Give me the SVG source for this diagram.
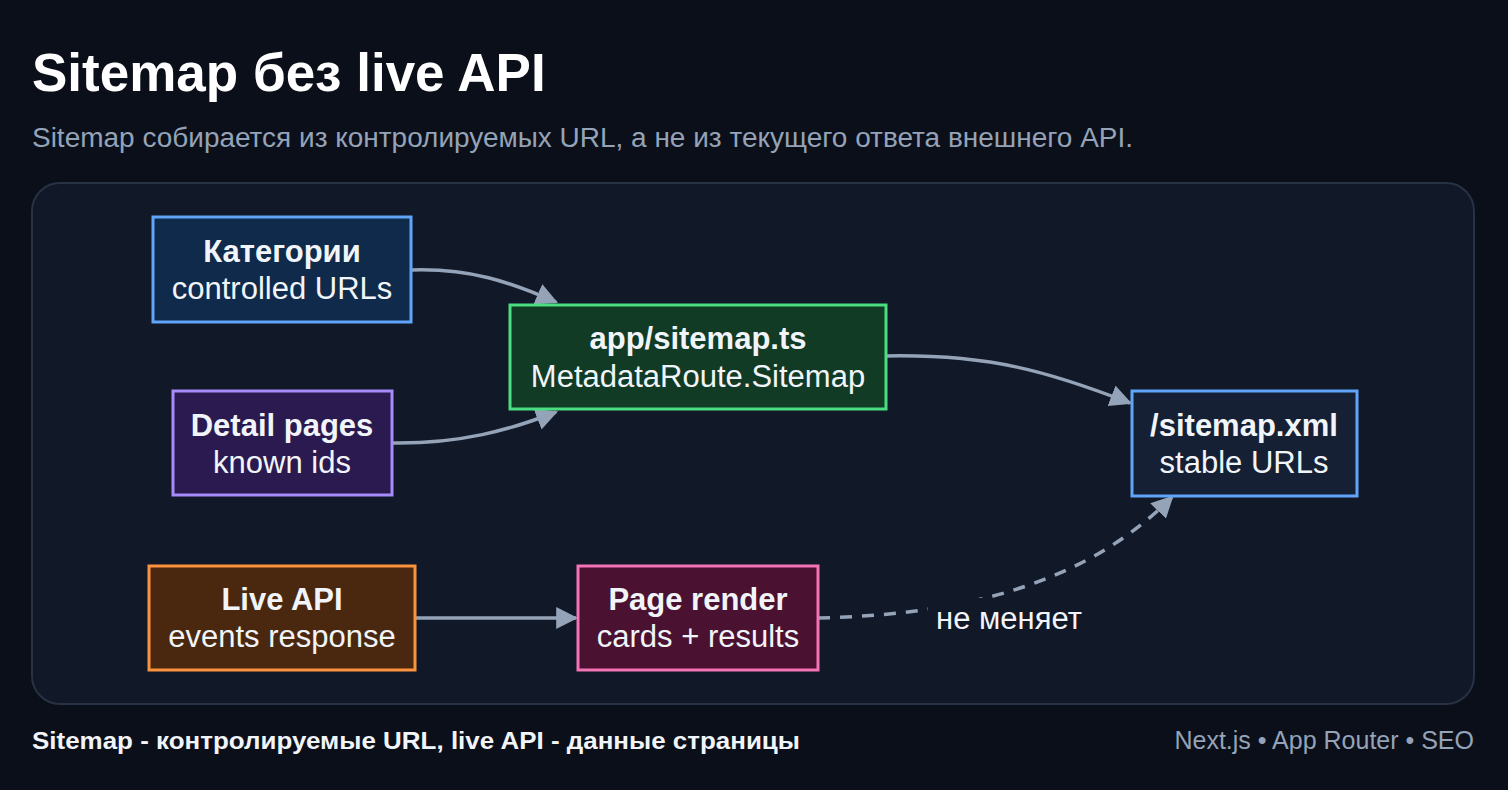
<svg xmlns="http://www.w3.org/2000/svg" width="1508" height="790" viewBox="0 0 1508 790">
<style>
.t{font-family:"Liberation Sans",Arial,sans-serif;fill:#f1f5f9;text-anchor:middle}
.b{font-weight:bold;font-size:31px}
.r{font-size:31px}
.e{fill:none;stroke:#94a3b8;stroke-width:3.5}
</style>
<defs>
<marker id="ah" viewBox="0 0 10 10" refX="9" refY="5" markerWidth="22" markerHeight="22" markerUnits="userSpaceOnUse" orient="auto"><path d="M0,0L10,5L0,10z" fill="#94a3b8"/></marker>
</defs>
<rect width="1508" height="790" fill="#0b0f19"/>
<text x="32" y="91" style="font-family:'Liberation Sans',Arial,sans-serif;font-weight:bold;font-size:53px;fill:#fff">Sitemap без live API</text>
<text x="32" y="147" style="font-family:'Liberation Sans',Arial,sans-serif;font-size:27px;fill:#94a3b8" textLength="1101" lengthAdjust="spacingAndGlyphs">Sitemap собирается из контролируемых URL, а не из текущего ответа внешнего API.</text>
<rect x="32" y="183" width="1442" height="521" rx="28" fill="#111827" stroke="#273244" stroke-width="2"/>
<g id="edges">
<path class="e" d="M411,270 C470,268 510,282 556,302" marker-end="url(#ah)"/>
<path class="e" d="M392,443 C460,444 510,430 556,412" marker-end="url(#ah)"/>
<path class="e" d="M886,356 C990,354 1050,372 1130,403" marker-end="url(#ah)"/>
<path class="e" d="M415,618 L576,618" marker-end="url(#ah)"/>
<path class="e" d="M818,618 C950,615 1080,590 1172,497" stroke-dasharray="12,10" marker-end="url(#ah)"/>
<rect x="928" y="598" width="162" height="42" fill="#111827"/>
<text class="t r" x="1009" y="629">не меняет</text>
</g>
<g id="n1"><rect x="153" y="217" width="258" height="105" fill="#0f2a4a" stroke="#60a5fa" stroke-width="3"/><text class="t b" x="282" y="262">Категории</text><text class="t r" x="282" y="299">controlled URLs</text></g>
<g id="n2"><rect x="173" y="391" width="219" height="104" fill="#2a1a50" stroke="#a78bfa" stroke-width="3"/><text class="t b" x="282" y="436">Detail pages</text><text class="t r" x="282" y="473">known ids</text></g>
<g id="n3"><rect x="510" y="305" width="376" height="104" fill="#123b26" stroke="#4ade80" stroke-width="3"/><text class="t b" x="698" y="349">app/sitemap.ts</text><text class="t r" x="698" y="387">MetadataRoute.Sitemap</text></g>
<g id="n4"><rect x="1132" y="391" width="225" height="105" fill="#162035" stroke="#60a5fa" stroke-width="3"/><text class="t b" x="1244" y="436">/sitemap.xml</text><text class="t r" x="1244" y="473">stable URLs</text></g>
<g id="n5"><rect x="149" y="566" width="266" height="104" fill="#4a2810" stroke="#fb923c" stroke-width="3"/><text class="t b" x="282" y="610">Live API</text><text class="t r" x="282" y="647">events response</text></g>
<g id="n6"><rect x="578" y="566" width="240" height="104" fill="#4a1230" stroke="#f472b6" stroke-width="3"/><text class="t b" x="698" y="610">Page render</text><text class="t r" x="698" y="647">cards + results</text></g>
<text x="32" y="749" style="font-family:'Liberation Sans',Arial,sans-serif;font-weight:bold;font-size:23px;fill:#f1f5f9" textLength="768" lengthAdjust="spacingAndGlyphs">Sitemap - контролируемые URL, live API - данные страницы</text>
<text x="1474" y="749" style="font-family:'Liberation Sans',Arial,sans-serif;font-size:25px;fill:#94a3b8;text-anchor:end">Next.js • App Router • SEO</text>
</svg>
